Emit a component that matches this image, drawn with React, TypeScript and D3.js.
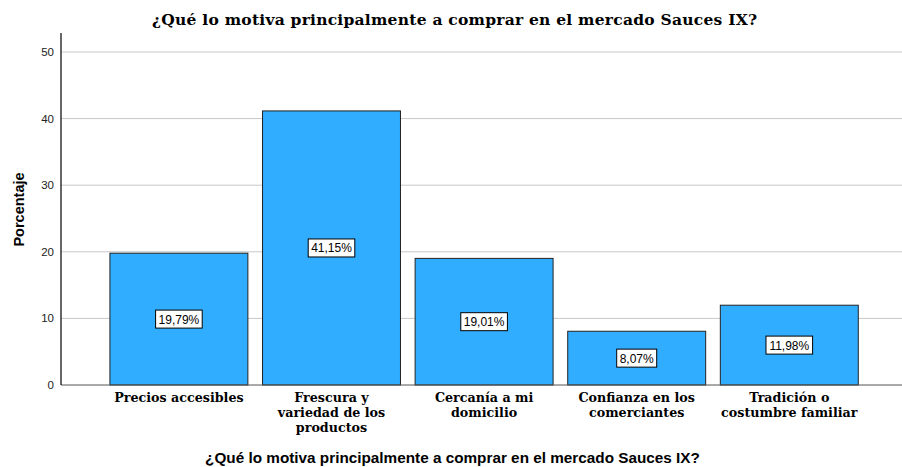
import React from "react";
import * as d3 from "d3";

const categories = [
  ["Precios accesibles"],
  ["Frescura y", "variedad de los", "productos"],
  ["Cercanía a mi", "domicilio"],
  ["Confianza en los", "comerciantes"],
  ["Tradición o", "costumbre familiar"],
];
const values = [19.79, 41.15, 19.01, 8.07, 11.98];
const yTicks = [0, 10, 20, 30, 40, 50];
const title = "¿Qué lo motiva principalmente a comprar en el mercado Sauces IX?";
const yTitle = "Porcentaje";

const W = 902;
const H = 467;

export default function App() {
  const y = d3.scaleLinear().domain([0, 52.85]).range([385, 33]);
  const x = d3
    .scaleBand<number>()
    .domain(values.map((_, i) => i))
    .range([102.6, 865.6])
    .paddingInner(0.096)
    .paddingOuter(0.048);
  const fmt = (v: number) => v.toFixed(2).replace(".", ",") + "%";
  return (
    <svg width={W} height={H} style={{ position: "absolute", left: 0, top: 0, background: "#fff" }}>
      <text x={454.5} y={25} textAnchor="middle" fontFamily="'DejaVu Serif', serif" fontWeight="bold" fontSize={15.5} fill="#000" textLength={605} lengthAdjust="spacing">
        {title}
      </text>
      {yTicks.map((t) => (
        <g key={t}>
          {t > 0 && <line x1={61} x2={902} y1={y(t)} y2={y(t)} stroke="#c8c8c8" strokeWidth={1} />}
          <text x={54} y={y(t) + 4} textAnchor="end" fontFamily="'Liberation Sans', Arial, sans-serif" fontSize={11.5} fill="#222">
            {t}
          </text>
        </g>
      ))}
      {values.map((v, i) => {
        const bx = x(i)!;
        const bw = x.bandwidth();
        const cy = y(v / 2);
        const label = fmt(v);
        const lw = label.length * 6.6 + 7;
        return (
          <g key={i}>
            <rect x={bx} y={y(v)} width={bw} height={y(0) - y(v)} fill="#31adff" stroke="#222" strokeWidth={1} />
            <rect x={bx + bw / 2 - lw / 2} y={cy - 9} width={lw} height={18} fill="#fff" stroke="#000" strokeWidth={1} />
            <text x={bx + bw / 2} y={cy + 4.5} textAnchor="middle" fontFamily="'Liberation Sans', Arial, sans-serif" fontSize={12} fill="#000">
              {label}
            </text>
            {categories[i].map((line, j) => (
              <text key={j} x={bx + bw / 2} y={402 + j * 15} textAnchor="middle" fontFamily="'DejaVu Serif', serif" fontWeight="bold" fontSize={12.7} fill="#000">
                {line}
              </text>
            ))}
          </g>
        );
      })}
      <line x1={61} x2={902} y1={y(0)} y2={y(0)} stroke="#555" strokeWidth={1} />
      <line x1={61} x2={61} y1={33} y2={y(0)} stroke="#000" strokeWidth={1.2} />
      <text transform={`translate(24,209.5) rotate(-90)`} textAnchor="middle" fontFamily="'Liberation Sans', Arial, sans-serif" fontWeight="bold" fontSize={14.5} fill="#000">
        {yTitle}
      </text>
      <text x={452.5} y={463} textAnchor="middle" fontFamily="'Liberation Sans', Arial, sans-serif" fontWeight="bold" fontSize={15.3} fill="#000">
        {title}
      </text>
    </svg>
  );
}
